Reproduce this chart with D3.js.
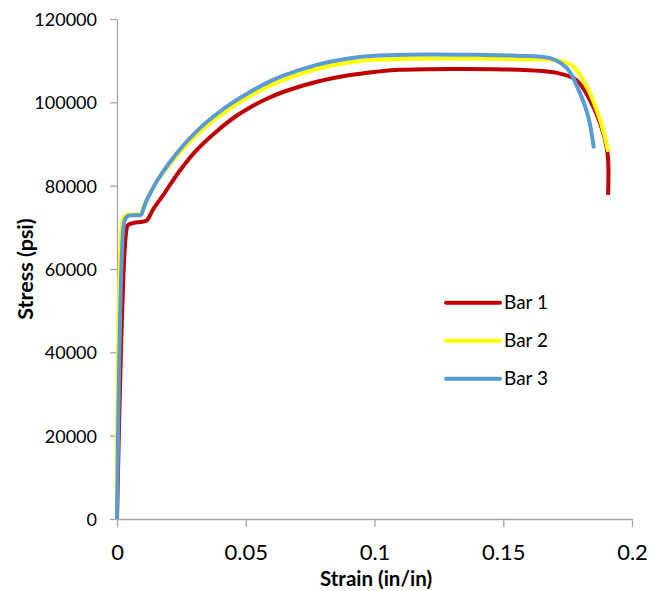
<!DOCTYPE html>
<html>
<head>
<meta charset="utf-8">
<script src="https://cdn.jsdelivr.net/npm/d3@7"></script>
<style>
  body { margin: 0; background: #fff; }
  text { font-family: Lato, "Open Sans", sans-serif; fill: #000; }
</style>
</head>
<body>
<div id="chart"></div>
<script>
const width = 651
const height = 591

// Bar 1 (red)
const strain1 = [0, 0.0034, 0.0042, 0.006, 0.009, 0.0115, 0.0125, 0.014, 0.018, 0.0245, 0.031, 0.039, 0.046, 0.052, 0.058, 0.065, 0.078, 0.09, 0.1, 0.11, 0.13, 0.15, 0.165, 0.172, 0.1785, 0.1837, 0.1876, 0.1905, 0.1907]
const stress1 = [0, 68000, 70500, 71000, 71300, 71600, 72500, 74300, 77800, 83700, 88600, 93200, 96600, 98900, 100800, 102600, 105000, 106500, 107300, 107800, 108000, 107900, 107500, 106900, 105300, 100500, 95000, 87800, 77800]

// Bar 2 (yellow)
const strain2 = [0, 0, 0.0018, 0.0026, 0.004, 0.007, 0.0092, 0.0102, 0.0115, 0.0128, 0.0154, 0.02, 0.0258, 0.032, 0.0387, 0.045, 0.0517, 0.058, 0.0646, 0.0776, 0.0905, 0.1, 0.12, 0.14, 0.16, 0.172, 0.1772, 0.1824, 0.1876, 0.1908]
const stress2 = [0, 15000, 70000, 72300, 73000, 73100, 73200, 74800, 76500, 78300, 81000, 84800, 89000, 92800, 96200, 99000, 101500, 103600, 105400, 108000, 109600, 110200, 110500, 110500, 110300, 110000, 108600, 103800, 95800, 88150]

// Bar 3 (blue)
const strain3 = [0, 0.0025, 0.0032, 0.0045, 0.007, 0.0093, 0.0103, 0.0115, 0.0128, 0.0154, 0.02, 0.0258, 0.032, 0.0387, 0.045, 0.0517, 0.058, 0.0646, 0.0776, 0.0905, 0.1, 0.12, 0.14, 0.155, 0.1682, 0.1747, 0.1798, 0.183, 0.1852]
const stress3 = [0, 70000, 72000, 72800, 72900, 73000, 74500, 76500, 78000, 81000, 85200, 89700, 93700, 97200, 100000, 102500, 104600, 106400, 109000, 110600, 111200, 111500, 111400, 111200, 110600, 108200, 102200, 96600, 89000]

const seriesNames = ["Bar 1", "Bar 2", "Bar 3"]
const seriesColors = ["#C00000", "#FFFF00", "#5B9BD5"]
const xTicks = [0, 0.05, 0.1, 0.15, 0.2]
const yTicks = [0, 20000, 40000, 60000, 80000, 100000, 120000]

const series = [
    { name: seriesNames[0], color: seriesColors[0], pts: strain1.map((s, i) => [s, stress1[i]]) },
    { name: seriesNames[1], color: seriesColors[1], pts: strain2.map((s, i) => [s, stress2[i]]) },
    { name: seriesNames[2], color: seriesColors[2], pts: strain3.map((s, i) => [s, stress3[i]]) },
]

const x = d3.scaleLinear().domain([0, 0.2]).range([117, 632])
const y = d3.scaleLinear().domain([0, 120000]).range([519, 19])

const svg = d3.select("#chart")
    .append("svg")
    .attr("width", width)
    .attr("height", height)

svg.append("rect").attr("width", width).attr("height", height).attr("fill", "#fff")

// axes
const yAxis = svg.append("g")
    .attr("transform", `translate(${x(0)},0)`)
    .call(d3.axisLeft(y).tickValues(yTicks).tickSize(7).tickSizeOuter(0).tickPadding(13).tickFormat(d3.format("d")))
yAxis.selectAll("text").style("font-size", "18px").attr("dy", "0.36em")

const xAxis = svg.append("g")
    .attr("transform", `translate(0,${y(0)})`)
    .call(d3.axisBottom(x).tickValues(xTicks).tickSize(8).tickSizeOuter(0).tickPadding(17).tickFormat(d => String(d)))
xAxis.selectAll("text").style("font-size", "22px")

svg.selectAll(".domain, .tick line").attr("stroke", "#A6A6A6").attr("stroke-width", 1.3)

// axis titles
svg.append("text")
    .attr("x", 376)
    .attr("y", 586)
    .attr("text-anchor", "middle")
    .style("font-size", "20.5px")
    .style("font-weight", "bold")
    .text("Strain (in/in)")

svg.append("text")
    .attr("transform", `translate(33,${(y(0) + y(120000)) / 2}) rotate(-90)`)
    .attr("text-anchor", "middle")
    .style("font-size", "21.5px")
    .style("font-weight", "bold")
    .text("Stress (psi)")

// curves
const line = d3.line()
    .x(d => x(d[0]))
    .y(d => y(d[1]))
    .curve(d3.curveCatmullRom.alpha(0.5))

svg.append("g")
    .selectAll("path")
    .data(series)
    .join("path")
    .attr("d", d => line(d.pts))
    .attr("fill", "none")
    .attr("stroke", d => d.color)
    .attr("stroke-width", 4)
    .attr("stroke-linejoin", "round")

// legend
const legend = svg.append("g")
    .selectAll("g")
    .data(series)
    .join("g")
    .attr("transform", (d, i) => `translate(446,${302.7 + i * 38})`)

legend.append("line")
    .attr("x1", 0).attr("x2", 54)
    .attr("stroke", d => d.color)
    .attr("stroke-width", 4)
    .attr("stroke-linecap", "round")

legend.append("text")
    .attr("x", 58)
    .attr("y", 6.7)
    .style("font-size", "19px")
    .text(d => d.name)
</script>
</body>
</html>
